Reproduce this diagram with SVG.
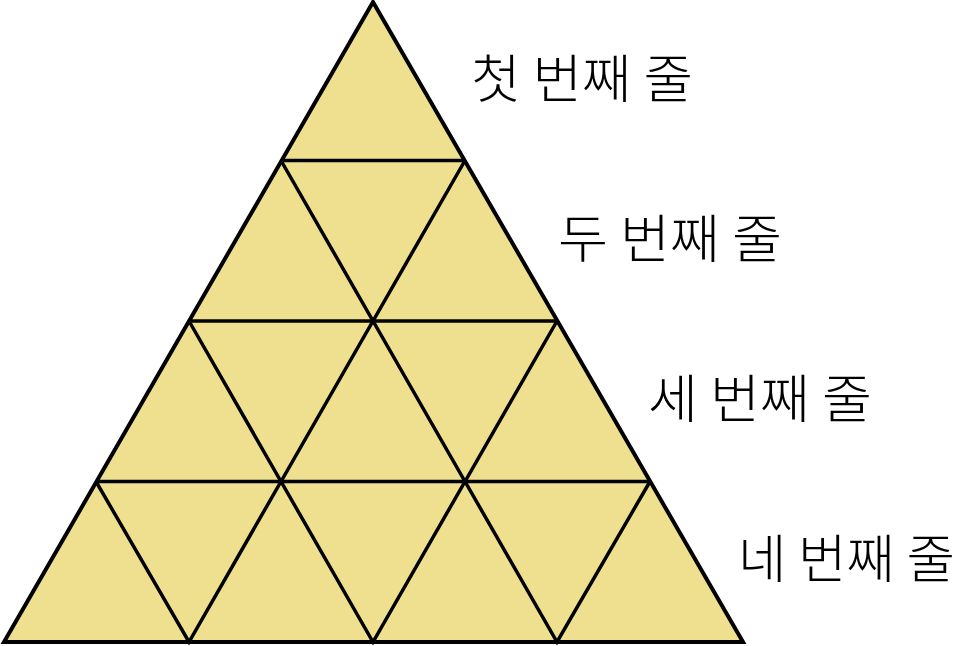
<svg xmlns="http://www.w3.org/2000/svg" width="957" height="646" viewBox="0 0 957 646">
<style>
.tri{fill:#EEE08F;stroke:#000;stroke-width:4;stroke-linejoin:miter}
.ln{fill:none;stroke:#000;stroke-width:3.5}
.lbl{font-family:"Noto Sans CJK KR","Noto Sans",sans-serif;font-size:52px;font-weight:300;fill:#000}
</style>
<rect width="957" height="646" fill="#fff"/>
<g id="pyramid">
<polygon class="tri" points="373,2 743,642 4,642"/>
</g>
<g id="connectors">
<path class="ln" d="M281,160.5H465 M189,321H557 M96,481.5H650"/>
<path class="ln" d="M281,160.5L373,321L465,160.5"/>
<path class="ln" d="M189,321L281,481.5L373,321L465,481.5L557,321"/>
<path class="ln" d="M96,481.5L189,642L281,481.5L373,642L465,481.5L557,642L650,481.5"/>
</g>
<g id="row1"><text class="lbl" x="471" y="98" textLength="222" lengthAdjust="spacingAndGlyphs">첫 번째 줄</text></g>
<g id="row2"><text class="lbl" x="558" y="258" textLength="224" lengthAdjust="spacingAndGlyphs">두 번째 줄</text></g>
<g id="row3"><text class="lbl" x="648" y="418" textLength="224" lengthAdjust="spacingAndGlyphs">세 번째 줄</text></g>
<g id="row4"><text class="lbl" x="738" y="578" textLength="217" lengthAdjust="spacingAndGlyphs">네 번째 줄</text></g>
</svg>
